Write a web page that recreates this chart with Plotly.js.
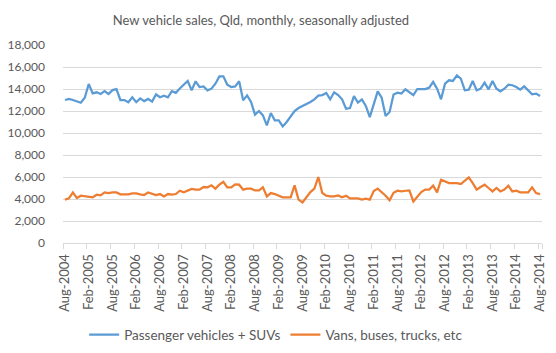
<!DOCTYPE html>
<html>
<head>
<meta charset="utf-8">
<script src="https://cdn.plot.ly/plotly-3.0.1.min.js"></script>
<style>html,body{margin:0;padding:0;background:#fff;}#chart{width:556px;height:353px;}</style>
</head>
<body>
<div id="chart"></div>
<script>
// Monthly categories Aug-2004 .. Aug-2014
var monthNames = ['Jan','Feb','Mar','Apr','May','Jun','Jul','Aug','Sep','Oct','Nov','Dec'];
var startYear = 2004, startMonth = 7, monthCount = 121;
var months = [];
for (var k = 0; k < monthCount; k++) {
  var m = (startMonth + k) % 12, y = startYear + Math.floor((startMonth + k) / 12);
  months.push(monthNames[m] + '-' + y);
}

var tickLabels = ['Aug-2004','Feb-2005','Aug-2005','Feb-2006','Aug-2006','Feb-2007','Aug-2007',
  'Feb-2008','Aug-2008','Feb-2009','Aug-2009','Feb-2010','Aug-2010','Feb-2011','Aug-2011',
  'Feb-2012','Aug-2012','Feb-2013','Aug-2013','Feb-2014','Aug-2014'];

var passenger = [
  13000,13100,13000,12850,12750,13200,14450,13600,13700,13550,
  13800,13550,13900,14000,13000,13000,12800,13250,12800,13150,
  12900,13100,12850,13500,13250,13400,13250,13800,13650,14050,
  14350,14730,13880,14700,14180,14240,13880,14030,14480,15150,
  15150,14400,14180,14240,14700,12970,13420,12820,11670,12000,
  11600,10700,11820,11150,11150,10600,11000,11450,12000,12270,
  12430,12610,12820,13060,13400,13450,13640,13060,13700,13450,
  13060,12210,12270,13360,12760,13060,12460,11450,12670,13790,
  13210,11550,11910,13490,13670,13580,13970,13670,13450,14000,
  14000,14000,14120,14640,14030,13060,14490,14790,14730,15240,
  14940,13880,13940,14730,13880,14030,14580,13970,14730,14030,
  13790,14030,14400,14340,14180,13940,14240,13880,13520,13580,
  13360
];

var vans = [
  3940,4060,4600,4090,4300,4240,4240,4150,4390,4330,
  4600,4540,4600,4600,4420,4420,4420,4510,4510,4420,
  4360,4600,4450,4360,4450,4240,4450,4390,4450,4750,
  4600,4750,4910,4850,4850,5090,5060,5240,4940,5300,
  5570,5060,5060,5330,5300,4850,4940,4940,4780,4780,
  5060,4240,4540,4450,4330,4150,4150,4150,5240,3940,
  3690,4180,4630,4940,6000,4540,4300,4240,4240,4330,
  4150,4300,4060,4060,4060,3940,4030,3940,4720,4940,
  4660,4300,3880,4570,4750,4690,4750,4780,3780,4240,
  4630,4850,4850,5210,4600,5750,5600,5450,5450,5450,
  5360,5660,5970,5450,4850,5090,5300,5000,4690,5000,
  4690,4850,5210,4690,4750,4600,4600,4600,5060,4540,
  4450
];

var seriesNames = ['Passenger vehicles + SUVs', 'Vans, buses, trucks, etc'];
var seriesColors = ['#5b9bd5', '#ed7d31'];

var font = 'Lato, "Open Sans", sans-serif';
var textColor = '#595959';

var data = [
  {x: months, y: passenger, name: seriesNames[0], type: 'scatter', mode: 'lines',
   line: {color: seriesColors[0], width: 2.25}},
  {x: months, y: vans, name: seriesNames[1], type: 'scatter', mode: 'lines',
   line: {color: seriesColors[1], width: 2.25}}
];

var layout = {
  width: 556, height: 353,
  margin: {l: 63, r: 14, t: 45, b: 110, pad: 0, autoexpand: false},
  paper_bgcolor: '#fff', plot_bgcolor: '#fff',
  font: {family: font, size: 12, color: textColor},
  title: {text: 'New vehicle sales, Qld, monthly, seasonally adjusted',
          font: {family: font, size: 13, color: textColor},
          x: 261/556, xanchor: 'center', xref: 'container', y: 1 - 20/353, yanchor: 'middle', yref: 'container'},
  showlegend: true,
  legend: {orientation: 'h', x: 0.445, xanchor: 'center', y: -0.385, yanchor: 'top',
           font: {family: font, size: 13.5, color: textColor}, itemwidth: 30, traceorder: 'normal'},
  xaxis: {
    type: 'category', tickmode: 'array', tickvals: tickLabels, ticktext: tickLabels,
    tickangle: -90, ticks: 'outside', ticklen: 5, tickcolor: '#d9d9d9',
    tickson: 'boundaries', ticklabelstandoff: 5, automargin: false,
    showline: true, linecolor: '#d9d9d9', linewidth: 1, showgrid: false, zeroline: false,
    range: [-0.5, 120.5], fixedrange: true,
    tickfont: {family: font, size: 13, color: textColor}
  },
  yaxis: {
    range: [0, 18000], tickvals: [0,2000,4000,6000,8000,10000,12000,14000,16000,18000],
    tickformat: ',d', showgrid: true, gridcolor: '#d9d9d9', gridwidth: 1, automargin: false,
    zeroline: false, showline: false, ticks: '', ticklabelstandoff: 17,
    tickfont: {family: font, size: 12, color: textColor}
  }
};

Plotly.newPlot('chart', data, layout, {displayModeBar: false, staticPlot: true});
</script>
</body>
</html>
